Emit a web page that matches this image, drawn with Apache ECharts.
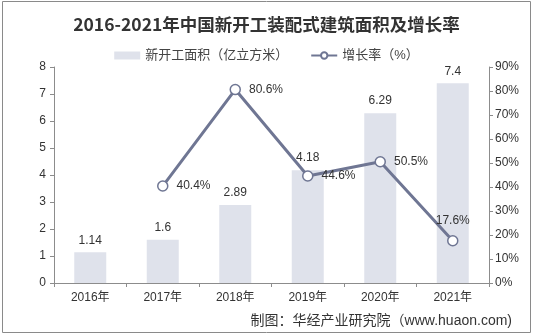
<!DOCTYPE html>
<html>
<head>
<meta charset="utf-8">
<script src="https://cdn.jsdelivr.net/npm/echarts@6/dist/echarts.min.js"></script>
<style>
  html, body { margin: 0; padding: 0; background: #fff; }
  #chart { width: 533px; height: 334px; }
</style>
</head>
<body>
<div id="chart"></div>
<script>
// Years on the category axis
const years = ['2016年', '2017年', '2018年', '2019年', '2020年', '2021年'];
// Newly started prefabricated building area (亿立方米)
const area = [1.14, 1.6, 2.89, 4.18, 6.29, 7.4];
// Year-on-year growth rate (%), none for the first year
const growth = [null, 40.4, 80.6, 44.6, 50.5, 17.6];

const barName = '新开工面积（亿立方米）';
const lineName = '增长率（%）';
const lineColor = '#6f7693';
const axisColor = '#8c8c8c';
const fontBase = 'Liberation Sans, Arial, "Noto Sans CJK SC", sans-serif';

const chart = echarts.init(document.getElementById('chart'));
chart.setOption({
  animation: false,
  backgroundColor: '#fff',
  textStyle: { fontFamily: fontBase },
  graphic: [{
    type: 'rect',
    shape: { x: 2.5, y: 1.5, width: 528, height: 331 },
    style: { fill: 'none', stroke: '#8a8a8a', lineWidth: 1 },
    z: 100
  }],
  title: [{
    text: '2016-2021年中国新开工装配式建筑面积及增长率',
    left: 'center',
    top: 11,
    textStyle: {
      fontFamily: '"Noto Sans CJK SC", sans-serif',
      fontSize: 17.5,
      fontWeight: 'bold',
      color: '#333'
    }
  }, {
    text: '制图：华经产业研究院（www.huaon.com)',
    right: 16,
    top: 309,
    textStyle: {
      fontFamily: fontBase,
      fontSize: 14,
      fontWeight: 'normal',
      color: '#333'
    }
  }],
  legend: {
    top: 44,
    left: 'center',
    itemGap: 22,
    itemWidth: 26,
    itemHeight: 8,
    textStyle: { fontSize: 13, color: '#444', fontFamily: fontBase },
    data: [
      { name: barName, icon: 'rect' },
      { name: lineName }
    ]
  },
  grid: { left: 54, right: 44, top: 67, bottom: 51 },
  xAxis: {
    type: 'category',
    data: years,
    axisLine: { lineStyle: { color: axisColor } },
    axisTick: { show: true, alignWithLabel: false, length: 4, lineStyle: { color: axisColor } },
    axisLabel: { color: '#333', fontSize: 12, margin: 9 }
  },
  yAxis: [{
    type: 'value',
    min: 0, max: 8, interval: 1,
    axisLine: { show: true, lineStyle: { color: axisColor } },
    axisTick: { show: true, length: 4, lineStyle: { color: axisColor } },
    splitLine: { show: false },
    axisLabel: { color: '#333', fontSize: 12, margin: 8 }
  }, {
    type: 'value',
    min: 0, max: 90, interval: 10,
    axisLine: { show: true, lineStyle: { color: axisColor } },
    axisTick: { show: true, length: 4, lineStyle: { color: axisColor } },
    splitLine: { show: false },
    axisLabel: { color: '#333', fontSize: 12, margin: 6, formatter: '{value}%' }
  }],
  series: [{
    name: barName,
    type: 'bar',
    data: area,
    barWidth: 32,
    itemStyle: { color: '#dfe2eb' },
    label: { show: true, position: 'top', color: '#333', fontSize: 12, distance: 6 }
  }, {
    name: lineName,
    type: 'line',
    yAxisIndex: 1,
    data: growth.map((v, i) => ({
      value: v,
      label: i === growth.length - 1 ? { position: 'top', distance: 8 } : undefined
    })),
    symbol: 'circle',
    symbolSize: 10,
    lineStyle: { color: lineColor, width: 3 },
    itemStyle: { color: '#fff', borderColor: lineColor, borderWidth: 1.5 },
    label: {
      show: true,
      position: 'right',
      distance: 8,
      color: '#333',
      fontSize: 12,
      formatter: p => p.value + '%'
    },
    z: 5
  }]
});
</script>
</body>
</html>
